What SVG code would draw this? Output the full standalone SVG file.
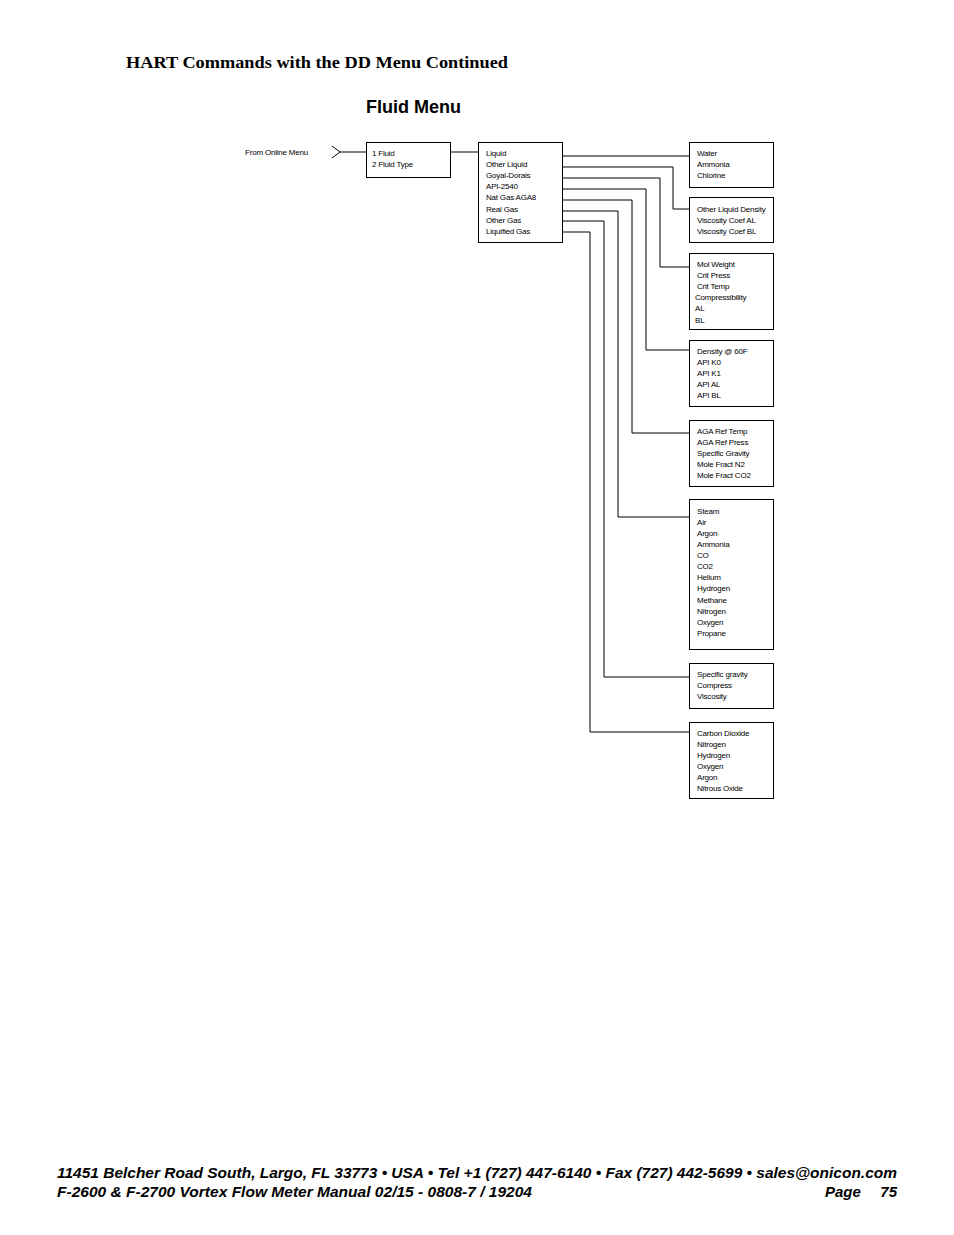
<svg xmlns="http://www.w3.org/2000/svg" width="954" height="1235" viewBox="0 0 954 1235">
<style>
.b{fill:#fff;stroke:#000;stroke-width:1}
.t{font-family:"Liberation Sans",Arial,sans-serif;font-size:8px;letter-spacing:-0.2px;fill:#000}
.c{fill:none;stroke:#000;stroke-width:1}
.f{font-family:"Liberation Sans",Arial,sans-serif;font-size:15px;font-weight:bold;font-style:italic}
</style>
<rect width="954" height="1235" fill="#fff"/>
<text x="126" y="68" font-family="Liberation Serif,serif" font-size="17" font-weight="bold" textLength="382" lengthAdjust="spacingAndGlyphs">HART Commands with the DD Menu Continued</text>
<text x="366" y="113" font-family="Liberation Sans,Arial,sans-serif" font-size="18" font-weight="bold">Fluid Menu</text>
<g id="connectors">
<path class="c" d="M332 146 L340 152 L332 158 M340 152 H366 M450 152 H478"/>
<path class="c" d="M562 156 H689 M562 167 H673 V209 H689 M562 178 H660 V267 H689 M562 189 H646 V350 H689 M562 200 H632 V433 H689 M562 211 H618 V517 H689 M562 221 H604 V677 H689 M562 232 H590 V732 H689"/>
</g>
<text class="t" x="245" y="155">From Online Menu</text>
<g id="fluid"><rect class="b" x="366.5" y="142.5" width="84" height="35"/><text class="t" x="372" y="156">1 Fluid</text><text class="t" x="372" y="167">2 Fluid Type</text></g>
<g id="type"><rect class="b" x="478.5" y="142.5" width="84" height="100"/>
<text class="t" x="486" y="156">Liquid</text><text class="t" x="486" y="167">Other Liquid</text><text class="t" x="486" y="178">Goyal-Dorais</text><text class="t" x="486" y="189">API-2540</text><text class="t" x="486" y="200">Nat Gas AGA8</text><text class="t" x="486" y="212">Real Gas</text><text class="t" x="486" y="223">Other Gas</text><text class="t" x="486" y="234">Liquified Gas</text></g>
<g id="water"><rect class="b" x="689.5" y="142.5" width="84" height="45"/><text class="t" x="697" y="156">Water</text><text class="t" x="697" y="167">Ammonia</text><text class="t" x="697" y="178">Chlorine</text></g>
<g id="other"><rect class="b" x="689.5" y="197.5" width="84" height="45"/><text class="t" x="697" y="212">Other Liquid Density</text><text class="t" x="697" y="223">Viscosity Coef AL</text><text class="t" x="697" y="234">Viscosity Coef BL</text></g>
<g id="goyal"><rect class="b" x="689.5" y="253.5" width="84" height="76"/><text class="t" x="697" y="267">Mol Weight</text><text class="t" x="697" y="278">Crit Press</text><text class="t" x="697" y="289">Crit Temp</text><text class="t" x="695" y="300">Compressibility</text><text class="t" x="695" y="311">AL</text><text class="t" x="695" y="323">BL</text></g>
<g id="api"><rect class="b" x="689.5" y="340.5" width="84" height="66"/><text class="t" x="697" y="354">Density @ 60F</text><text class="t" x="697" y="365">API K0</text><text class="t" x="697" y="376">API K1</text><text class="t" x="697" y="387">API AL</text><text class="t" x="697" y="398">API BL</text></g>
<g id="aga"><rect class="b" x="689.5" y="420.5" width="84" height="66"/><text class="t" x="697" y="434">AGA Ref Temp</text><text class="t" x="697" y="445">AGA Ref Press</text><text class="t" x="697" y="456">Specific Gravity</text><text class="t" x="697" y="467">Mole Fract N2</text><text class="t" x="697" y="478">Mole Fract CO2</text></g>
<g id="real"><rect class="b" x="689.5" y="499.5" width="84" height="150"/>
<text class="t" x="697" y="514">Steam</text><text class="t" x="697" y="525">Air</text><text class="t" x="697" y="536">Argon</text><text class="t" x="697" y="547">Ammonia</text><text class="t" x="697" y="558">CO</text><text class="t" x="697" y="569">CO2</text><text class="t" x="697" y="580">Helium</text><text class="t" x="697" y="591">Hydrogen</text><text class="t" x="697" y="603">Methane</text><text class="t" x="697" y="614">Nitrogen</text><text class="t" x="697" y="625">Oxygen</text><text class="t" x="697" y="636">Propane</text></g>
<g id="othergas"><rect class="b" x="689.5" y="663.5" width="84" height="45"/><text class="t" x="697" y="677">Specific gravity</text><text class="t" x="697" y="688">Compress</text><text class="t" x="697" y="699">Viscosity</text></g>
<g id="liq"><rect class="b" x="689.5" y="722.5" width="84" height="76"/><text class="t" x="697" y="736">Carbon Dioxide</text><text class="t" x="697" y="747">Nitrogen</text><text class="t" x="697" y="758">Hydrogen</text><text class="t" x="697" y="769">Oxygen</text><text class="t" x="697" y="780">Argon</text><text class="t" x="697" y="791">Nitrous Oxide</text></g>
<text class="f" x="57" y="1178" textLength="840" lengthAdjust="spacingAndGlyphs">11451 Belcher Road South, Largo, FL 33773 • USA • Tel +1 (727) 447-6140 • Fax (727) 442-5699 • sales@onicon.com</text>
<text class="f" x="57" y="1197" textLength="475" lengthAdjust="spacingAndGlyphs">F-2600 &amp; F-2700 Vortex Flow Meter Manual 02/15 - 0808-7 / 19204</text>
<text class="f" x="825" y="1197">Page</text>
<text class="f" x="897" y="1197" text-anchor="end">75</text>
</svg>
